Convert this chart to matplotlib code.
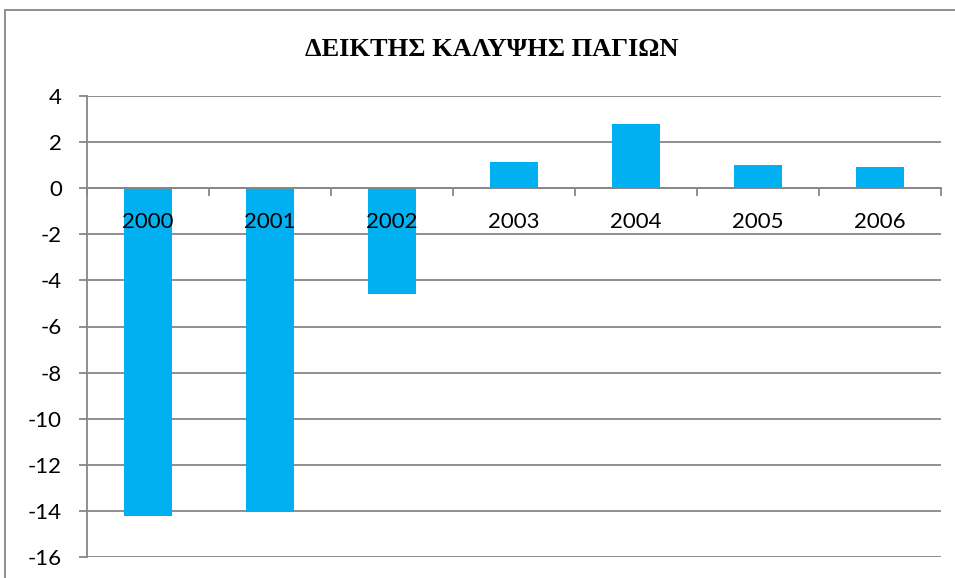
import matplotlib.pyplot as plt
from matplotlib.patches import Rectangle
from matplotlib.transforms import offset_copy

years = ["2000", "2001", "2002", "2003", "2004", "2005", "2006"]
values = [-14.2, -14.05, -4.6, 1.15, 2.78, 1.0, 0.9]
title = "ΔΕΙΚΤΗΣ ΚΑΛΥΨΗΣ ΠΑΓΙΩΝ"

plt.rcParams["axes.unicode_minus"] = False

W, H = 955, 578
fig = plt.figure(figsize=(W / 100, H / 100), dpi=100)
grey = "#878787"

# outer chart frame (cut off on the right and bottom)
fig.patches.append(Rectangle((5 / W, -0.1), 1.1, 1.1 - 10 / H, transform=fig.transFigure,
                             fill=False, edgecolor=grey, linewidth=1.3))

ax = fig.add_axes([87 / W, 1 - 557 / H, (941 - 87) / W, (557 - 96) / H])
x = list(range(len(years)))
ax.bar(x, values, width=0.4, color="#00B0F0", zorder=2)

ax.set_xlim(-0.5, 6.5)
ax.set_ylim(-16, 4)
ax.set_yticks(range(-16, 5, 2))
for v in range(-16, 5, 2):
    ax.axhline(v, color=grey, linewidth=1.3, zorder=1)

ax.spines["top"].set_visible(False)
ax.spines["right"].set_visible(False)
ax.spines["left"].set_color(grey)
ax.spines["left"].set_linewidth(1.3)
ax.spines["bottom"].set_position(("data", 0))
ax.spines["bottom"].set_color(grey)
ax.spines["bottom"].set_linewidth(1.3)
ax.spines["bottom"].set_zorder(3)

ax.set_xticks([i - 0.5 for i in range(len(years) + 1)])
ax.set_xticklabels([])
ax.tick_params(axis="x", direction="out", length=6, width=1.3, color=grey)
ax.tick_params(axis="y", direction="out", length=6, width=1.3, color=grey,
               pad=12, labelsize=16)
for lab in ax.get_yticklabels():
    lab.set_fontfamily("Lato")

tr = offset_copy(ax.transData, fig=fig, x=0, y=-34, units="dots")
for i, yr in enumerate(years):
    ax.text(i, 0, yr, transform=tr, ha="center", va="center",
            fontsize=16, fontfamily="Lato", zorder=4)

fig.text(492 / W, 1 - 50 / H, title, ha="center", va="center",
         fontsize=19, fontweight="bold", fontfamily="Liberation Serif")

fig.savefig("out.png", dpi=100)
